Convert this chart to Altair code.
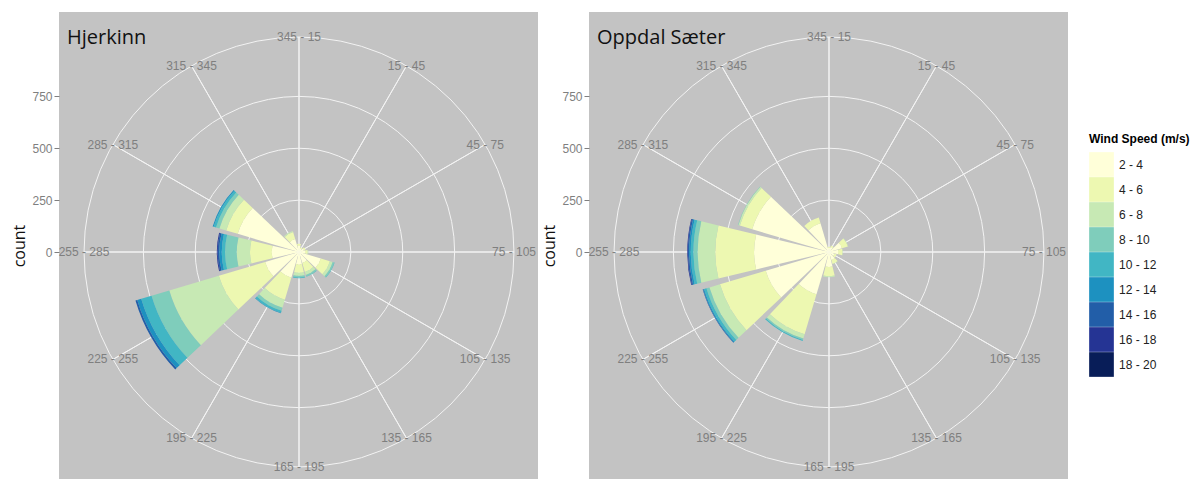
import math
import altair as alt
import pandas as pd

# ---------------- data ----------------
speed_bins = ["2 - 4", "4 - 6", "6 - 8", "8 - 10", "10 - 12",
              "12 - 14", "14 - 16", "16 - 18", "18 - 20"]
speed_colors = ["#ffffd9", "#edf8b1", "#c7e9b4", "#7fcdbb", "#41b6c4",
                "#1d91c0", "#225ea8", "#253494", "#081d58"]

dir_labels = ["345 - 15", "15 - 45", "45 - 75", "75 - 105", "105 - 135", "135 - 165",
              "165 - 195", "195 - 225", "225 - 255", "255 - 285", "285 - 315", "315 - 345"]
dir_angles = [0, 30, 60, 90, 120, 150, 180, 210, 240, 270, 300, 330]

grid_counts = [250, 500, 750]
axis_values = [0, 250, 500, 750]

# counts per direction, one value per speed bin (2-4 ... 18-20)
hjerkinn = {
    "345 - 15":  [30, 10, 0, 0, 0, 0, 0, 0, 0],
    "15 - 45":   [18, 6, 0, 0, 0, 0, 0, 0, 0],
    "45 - 75":   [25, 8, 0, 0, 0, 0, 0, 0, 0],
    "75 - 105":  [30, 12, 3, 0, 0, 0, 0, 0, 0],
    "105 - 135": [110, 45, 14, 8, 2, 0, 0, 0, 0],
    "135 - 165": [55, 45, 15, 8, 2, 0, 0, 0, 0],
    "165 - 195": [60, 40, 15, 8, 4, 0, 0, 0, 0],
    "195 - 225": [130, 110, 40, 15, 10, 3, 0, 0, 0],
    "225 - 255": [170, 233, 249, 89, 52, 20, 9, 0, 0],
    "255 - 285": [131, 105, 64, 56, 16, 12, 8, 4, 0],
    "285 - 315": [308, 58, 34, 17, 12, 5, 0, 0, 0],
    "315 - 345": [65, 35, 5, 0, 0, 0, 0, 0, 0],
}
oppdal = {
    "345 - 15":  [20, 5, 0, 0, 0, 0, 0, 0, 0],
    "15 - 45":   [25, 8, 0, 0, 0, 0, 0, 0, 0],
    "45 - 75":   [65, 30, 2, 0, 0, 0, 0, 0, 0],
    "75 - 105":  [45, 20, 2, 0, 0, 0, 0, 0, 0],
    "105 - 135": [28, 10, 0, 0, 0, 0, 0, 0, 0],
    "135 - 165": [40, 20, 2, 0, 0, 0, 0, 0, 0],
    "165 - 195": [72, 45, 5, 0, 0, 0, 0, 0, 0],
    "195 - 225": [212, 202, 21, 7, 5, 0, 0, 0, 0],
    "225 - 255": [318, 230, 53, 15, 12, 5, 2, 0, 0],
    "255 - 285": [361, 187, 85, 20, 13, 8, 6, 3, 0],
    "285 - 315": [386, 62, 8, 2, 0, 0, 0, 0, 0],
    "315 - 345": [144, 29, 0, 0, 0, 0, 0, 0, 0],
}
stations = [("Hjerkinn", hjerkinn), ("Oppdal Sæter", oppdal)]

# ---------------- layout / style ----------------
W, H = 479, 467
CX, CY = 240, 240                  # polar centre inside each panel (px)
R_MAX, R_PX = 1000, 207.5          # radius scale: counts -> pixels
RING = 1036                        # outer ring (theta label circle), in counts
HALF_W = 13.5                      # half bar width in degrees (0.9 * 30 / 2)
BG = "#c3c3c3"
GRID = "#f3f3f3"
LABEL_GREY = "#7f7f7f"

theta_scale = alt.Scale(type="linear", domain=[0, 360], range=[0, 2 * math.pi],
                        nice=False, zero=False)
r_scale = alt.Scale(type="linear", domain=[0, R_MAX], range=[0, R_PX], nice=False, zero=True)
Y_HI = CY * R_MAX / R_PX
Y_LO = -(H - CY) * R_MAX / R_PX

dir_df = pd.DataFrame({"label": dir_labels, "angle": dir_angles})
ring_df = pd.DataFrame({"r": grid_counts + [RING]})
axis_df = pd.DataFrame({"v": axis_values})


def long_table(data):
    rows = []
    for lab, ang in zip(dir_labels, dir_angles):
        cum = 0
        for i, (sp, c) in enumerate(zip(speed_bins, data[lab])):
            if c <= 0:
                continue
            rows.append({"dir": lab, "angle": ang, "speed": sp, "ord": i,
                         "lo": cum, "hi": cum + c})
            cum += c
    return pd.DataFrame(rows)


legend = alt.Legend(
    title="Wind Speed (m/s)", orient="none", legendX=1030, legendY=122,
    titleFontWeight="bold", titleFontSize=12, titleFont="Liberation Sans",
    titleColor="#000000", titlePadding=6,
    labelFont="Liberation Sans", labelFontSize=12, labelColor="#222222",
    labelOffset=5, symbolType="square", symbolSize=610, symbolStrokeWidth=0,
    symbolOpacity=1, rowPadding=0, padding=0,
)

cx = alt.value(CX)
cy = alt.value(CY)


def panel(name, data):
    df = long_table(data)

    circles = alt.Chart(ring_df).mark_arc(
        filled=False, stroke=GRID, strokeWidth=1, theta=0, theta2=2 * math.pi
    ).encode(x=cx, y=cy, radius=alt.Radius("r:Q", scale=r_scale, stack=False))

    spokes = alt.Chart(dir_df).transform_calculate(ring=str(RING)).mark_arc(
        filled=False, stroke=GRID, strokeWidth=1
    ).encode(
        x=cx, y=cy,
        theta=alt.Theta("angle:Q", scale=theta_scale, stack=False),
        theta2="angle:Q",
        radius=alt.Radius("ring:Q", scale=r_scale, stack=False),
    )

    bars = alt.Chart(df).transform_calculate(
        t0=f"datum.angle - {HALF_W}", t1=f"datum.angle + {HALF_W}"
    ).mark_arc().encode(
        x=cx, y=cy,
        theta=alt.Theta("t0:Q", scale=theta_scale, stack=False),
        theta2="t1:Q",
        radius=alt.Radius("hi:Q", scale=r_scale, stack=False),
        radius2="lo:Q",
        color=alt.Color("speed:N", scale=alt.Scale(domain=speed_bins, range=speed_colors),
                        legend=legend),
    )

    labels = alt.Chart(dir_df).transform_calculate(ring=str(RING)).mark_text(
        font="Liberation Sans", fontSize=12, color=LABEL_GREY,
        align="center", baseline="middle"
    ).encode(
        x=cx, y=cy,
        theta=alt.Theta("angle:Q", scale=theta_scale, stack=False),
        radius=alt.Radius("ring:Q", scale=r_scale, stack=False),
        text="label:N",
    )

    yaxis = alt.Chart(axis_df).mark_tick(opacity=0).encode(
        y=alt.Y("v:Q", scale=alt.Scale(domain=[Y_LO, Y_HI], nice=False, zero=False),
                axis=alt.Axis(values=axis_values, title="count", grid=False, domain=False,
                              tickSize=5, tickColor=LABEL_GREY, tickWidth=1,
                              labelColor=LABEL_GREY, labelFont="Liberation Sans",
                              labelFontSize=12, labelPadding=2,
                              titleFont="Open Sans", titleFontSize=16,
                              titleFontWeight="normal", titleColor="#111111",
                              titlePadding=4))
    )

    title = alt.Chart(pd.DataFrame({"t": [name]})).mark_text(
        font="Open Sans", fontSize=20, color="#111111", align="left",
        baseline="alphabetic"
    ).encode(text="t:N", x=alt.value(8), y=alt.value(32))

    return alt.layer(yaxis, circles, spokes, bars, labels, title).properties(
        width=W, height=H
    )


chart = alt.hconcat(*[panel(n, d) for n, d in stations], spacing=3).properties(
    padding={"left": 3, "top": 4, "right": 0, "bottom": 0}
).configure_view(fill=BG, stroke="transparent", strokeWidth=0)

chart.save("out.html", embed_options={"renderer": "svg", "actions": False})
